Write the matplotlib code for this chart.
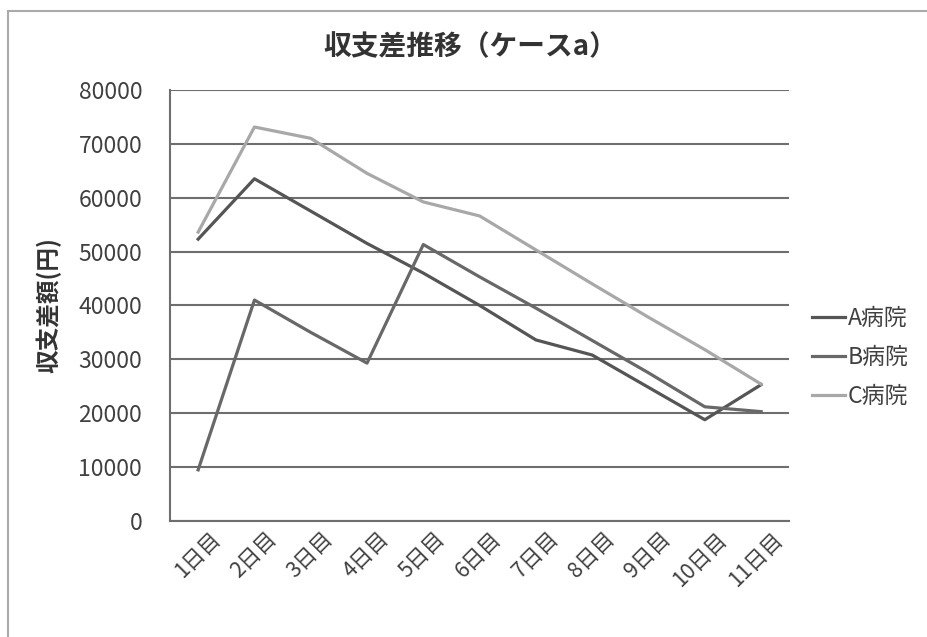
import matplotlib
matplotlib.use("Agg")
import matplotlib.pyplot as plt
import matplotlib.transforms as mtransforms
from matplotlib.patches import Rectangle

plt.rcParams['font.family'] = ['Noto Sans CJK JP', 'DejaVu Sans']

# data
days = ["1日目", "2日目", "3日目", "4日目", "5日目", "6日目",
        "7日目", "8日目", "9日目", "10日目", "11日目"]
hosp_a = [52300, 63500, 57500, 51500, 46000, 40000, 33600, 30800, 24800, 18800, 25300]
hosp_b = [9500, 41000, 35000, 29300, 51300, 45300, 39500, 33500, 27500, 21200, 20300]
hosp_c = [53600, 73100, 71000, 64500, 59200, 56600, 50300, 44000, 37800, 31800, 25400]
labels = ["A病院", "B病院", "C病院"]
colors = ["#555555", "#686868", "#a8a8a8"]

fig = plt.figure(figsize=(9.27, 6.37), dpi=100)
ax = fig.add_axes([0.1834, 0.182, 0.668, 0.677])

x = range(len(days))
for vals, lab, c in zip([hosp_a, hosp_b, hosp_c], labels, colors):
    ax.plot(x, vals, color=c, linewidth=2.3, label=lab)

ax.set_xlim(-0.5, len(days) - 0.5)
ax.set_ylim(0, 80000)
ax.set_yticks(range(0, 80001, 10000))
ax.tick_params(axis='y', length=0, labelsize=16.5, pad=20, colors="#404040")
ax.tick_params(axis='x', length=0, labelsize=15.5, pad=5, colors="#404040")
ax.set_xticks(list(x))
ax.set_xticklabels(days, rotation=45, ha='right', rotation_mode='anchor')
# nudge rotated labels right so they end under their category
shift = mtransforms.ScaledTranslation(11 / 100, 0, fig.dpi_scale_trans)
for t in ax.get_xticklabels():
    t.set_transform(t.get_transform() + shift)

ax.grid(axis='y', color="#6e6e6e", linewidth=1.5)
ax.set_axisbelow(True)
for s in ['top', 'right']:
    ax.spines[s].set_visible(False)
for s in ['left', 'bottom']:
    ax.spines[s].set_color("#6e6e6e")
    ax.spines[s].set_linewidth(1.5)

ax.set_ylabel("収支差額(円)", fontsize=17, fontweight='bold', color="#333333", labelpad=12)
fig.text(0.507, 0.926, "収支差推移（ケースa）", ha='center', va='center',
         fontsize=20, fontweight='bold', color="#333333")

ax.legend(loc='center left', bbox_to_anchor=(1.037, 0.38), frameon=False,
          fontsize=16.5, handlelength=1.45, handletextpad=0.1, labelspacing=0.7,
          borderpad=0, borderaxespad=0, labelcolor="#404040")

fig.patches.append(Rectangle((0.009, -0.01), 1.0, 0.993, transform=fig.transFigure,
                             fill=False, edgecolor="#aaaaaa", linewidth=1.5))

fig.savefig("out.png", dpi=100)
